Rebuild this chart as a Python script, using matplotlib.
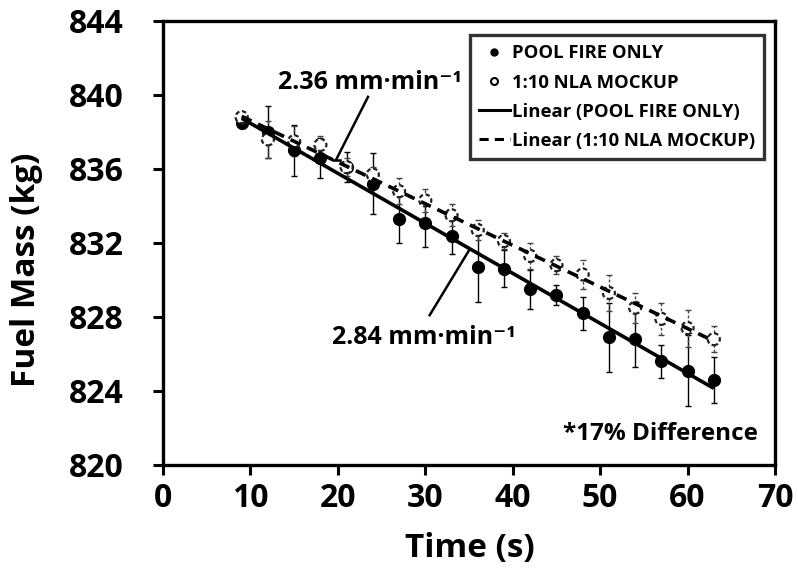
import numpy as np
import matplotlib
matplotlib.use("Agg")
import matplotlib.pyplot as plt
from matplotlib.lines import Line2D

FONT = 'Open Sans'
plt.rcParams['font.family'] = [FONT, 'DejaVu Sans']
plt.rcParams['font.weight'] = 'bold'

# ---- data ----
time_s = [9, 12, 15, 18, 21, 24, 27, 30, 33, 36, 39, 42, 45, 48, 51, 54, 57, 60, 63]
pool_fire = [838.5, 838.0, 837.0, 836.6, 836.1, 835.2, 833.3, 833.1, 832.4, 830.7,
             830.6, 829.5, 829.2, 828.2, 826.9, 826.8, 825.6, 825.1, 824.6]
pool_fire_err = [0.3, 1.4, 1.4, 1.1, 0.8, 1.65, 1.3, 1.3, 1.0, 1.9,
                 1.0, 1.05, 0.55, 0.9, 1.85, 1.5, 0.9, 1.9, 1.25]
mockup = [838.8, 837.6, 837.5, 837.3, 836.1, 835.7, 834.8, 834.3, 833.5, 832.7,
          832.1, 831.3, 830.8, 830.3, 829.3, 828.5, 827.9, 827.4, 826.8]
mockup_err = [0.3, 1.0, 0.8, 0.5, 0.5, 0.4, 0.7, 0.6, 0.6, 0.55,
              0.45, 0.7, 0.5, 0.8, 0.95, 0.8, 0.85, 1.0, 0.7]
x_ticks = [0, 10, 20, 30, 40, 50, 60, 70]
y_ticks = [820, 824, 828, 832, 836, 840, 844]
label_pool = "POOL FIRE ONLY"
label_mock = "1:10 NLA MOCKUP"

t = np.array(time_s, dtype=float)

fig = plt.figure(figsize=(7.98, 5.74), dpi=100)
ax = fig.add_axes([163/798, 1-465/574, (775-163)/798, (465-21)/574])

# error bars + markers
ax.errorbar(t, pool_fire, yerr=pool_fire_err, fmt='o', ms=8.5, color='black',
            mfc='black', mec='black', elinewidth=1.0, capsize=2.5, capthick=1.0, zorder=3)
eb = ax.errorbar(t, mockup, yerr=mockup_err, fmt='none', ecolor='#444444',
                 elinewidth=1.0, capsize=2.5, capthick=1.0, zorder=3)
for lc in eb[2]:
    lc.set_linestyle((0, (2, 1.5)))
ax.scatter(t, mockup, s=75, facecolors='white', edgecolors='#222222',
           linewidths=1.6, linestyle=(0, (2, 1.2)), zorder=4)

# linear trendlines
p1 = np.polyfit(t, pool_fire, 1)
p2 = np.polyfit(t, mockup, 1)
tt = np.array([t.min(), t.max()])
ax.plot(tt, np.polyval(p1, tt), color='black', lw=2.6, zorder=5, solid_capstyle='butt')
ax.plot(tt, np.polyval(p2, tt), color='black', lw=2.6, ls=(0, (3, 2)), zorder=5)

ax.set_xlim(0, 70)
ax.set_ylim(820, 844)
ax.set_xticks(x_ticks)
ax.set_yticks(y_ticks)
ax.tick_params(axis='both', direction='out', length=7, width=2.2, labelsize=23)
ax.tick_params(axis='x', pad=5)
ax.tick_params(axis='y', pad=21)
for lab in ax.get_xticklabels() + ax.get_yticklabels():
    lab.set_fontweight('bold')
for sp in ax.spines.values():
    sp.set_linewidth(2.4)

ax.set_xlabel("Time (s)", fontsize=24, fontweight='bold')
ax.set_ylabel("Fuel Mass (kg)", fontsize=24, fontweight='bold')
ax.xaxis.set_label_coords((470-163)/612, (465-548)/444)
ax.xaxis.label.set_va('center')
ax.yaxis.set_label_coords((27-163)/612, (465-270)/444)
ax.yaxis.label.set_va('center')
ax.yaxis.label.set_ha('center')

# annotations
ax.text(23.7, 840.65, "2.36 mm\u00b7min\u207b\u00b9", fontsize=18, fontweight='bold',
        ha='center', va='center')
ax.plot([23.45, 19.8], [839.9, 836.5], color='black', lw=1.8, zorder=6)
ax.plot([19.5, 20.3], [836.5, 836.5], color='black', lw=1.8, zorder=6)
ax.text(29.8, 826.9, "2.84 mm\u00b7min\u207b\u00b9", fontsize=18, fontweight='bold',
        ha='center', va='center')
ax.plot([30.5, 35.0], [828.1, 831.6], color='black', lw=1.8, zorder=6)
ax.text(68.0, 821.65, "*17% Difference", fontsize=17.5, fontweight='bold',
        ha='right', va='center')

handles = [
    Line2D([], [], ls='none', marker='o', ms=5, color='black'),
    Line2D([], [], ls='none', marker='o', ms=5, mfc='white', mec='black', mew=1.5),
    Line2D([], [], color='black', lw=2.2),
    Line2D([], [], color='black', lw=2.2, ls=(0, (3, 2))),
]
labels = [label_pool, label_mock, "Linear (POOL FIRE ONLY)", "Linear (1:10 NLA MOCKUP)"]
leg = ax.legend(handles, labels, loc='upper right', bbox_to_anchor=(0.982, 0.968),
                borderaxespad=0, frameon=True, fancybox=False,
                handlelength=1.7, handletextpad=0.08, labelspacing=0.6,
                borderpad=0.5,
                prop={'family': FONT, 'weight': 'bold', 'size': 13.3})
leg.get_frame().set_edgecolor('black')
leg.get_frame().set_linewidth(2.4)
leg.set_zorder(10)

fig.savefig("out.png", dpi=100)
